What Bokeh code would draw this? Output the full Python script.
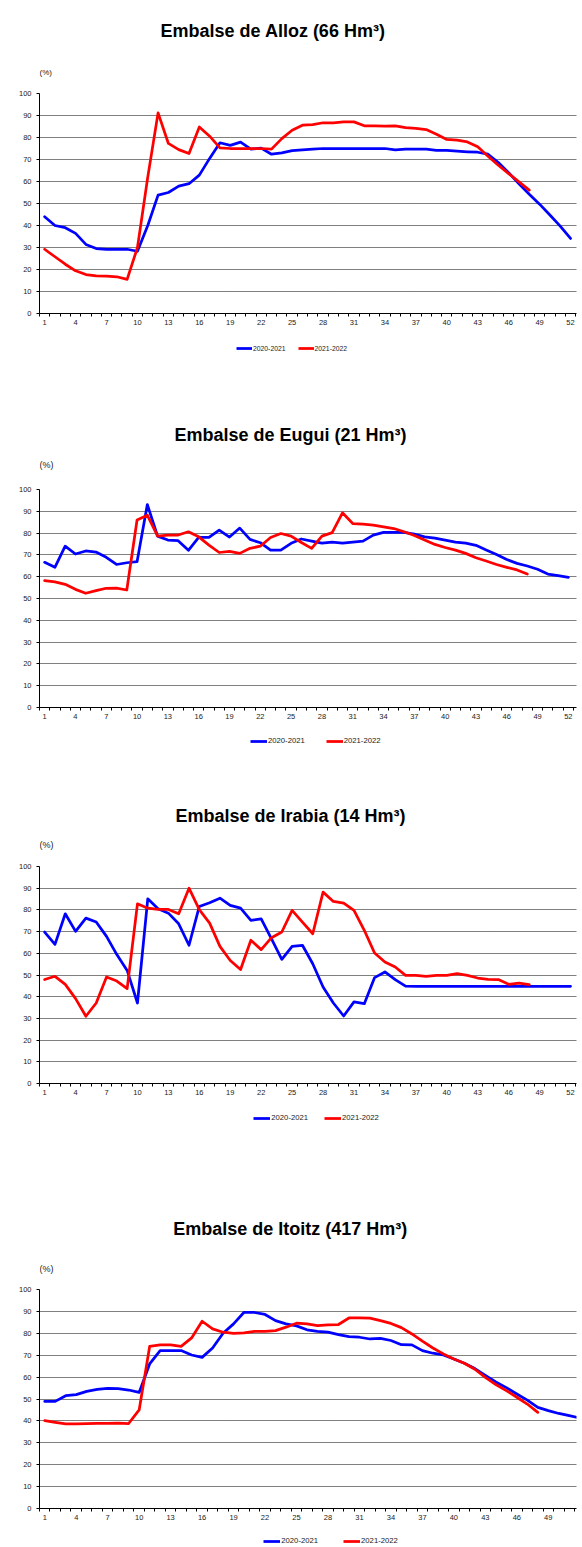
import numpy as np
from bokeh.plotting import figure
from bokeh.layouts import column
from bokeh.models import Range1d, FixedTicker, Legend, LegendItem, Label
from bokeh.embed import file_html
from bokeh.resources import INLINE

# ---------------- data ----------------
weeks = list(range(1, 53))
week_ticks = list(range(1, 53, 3))
y_ticks = list(range(0, 101, 10))
series_names = ["2020-2021", "2021-2022"]
unit_label = "(%)"

titles = [
    "Embalse de Alloz (66 Hm³)",
    "Embalse de Eugui (21 Hm³)",
    "Embalse de Irabia (14 Hm³)",
    "Embalse de Itoitz (417 Hm³)",
]

alloz_2020_2021 = [44, 40, 39, 36.4, 31.4, 29.5, 29.2, 29.2, 29.2, 28.3,
                   40, 53.8, 55, 57.9, 59, 62.9, 70.5, 77.6, 76.4, 77.9,
                   74.7, 75.2, 72.4, 73, 74, 74.4, 74.7, 75, 75, 75,
                   75, 75, 75, 75, 74.4, 74.7, 74.7, 74.7, 74.2, 74.1,
                   73.8, 73.5, 73.3, 72.4, 68.6, 64, 59, 54.2, 49.7, 44.8,
                   39.7, 34.1]
alloz_2021_2022 = [29.2, 25.8, 22.4, 19.4, 17.7, 17.1, 17, 16.7, 15.5, 30,
                   62, 91.2, 77.3, 74.5, 72.7, 84.8, 80.6, 75.3, 75, 75,
                   75, 75, 74.7, 79.5, 83.3, 85.6, 85.9, 86.7, 86.7, 87.1,
                   87.1, 85.3, 85.3, 85.2, 85.3, 84.5, 84.1, 83.6, 81.5, 79.1,
                   78.8, 78, 75.8, 71.5, 67.4, 63.6, 59.8, 56.1]

eugui_2020_2021 = [66.6, 64.3, 74, 70.4, 71.8, 71.3, 68.9, 65.6, 66.4, 66.9,
                   93.1, 78.6, 76.8, 76.5, 72.1, 78, 78, 81.4, 78.2, 82.3,
                   77.1, 75.6, 72.2, 72.2, 75.3, 77.3, 76.3, 75.4, 75.9, 75.4,
                   75.9, 76.3, 79.1, 80.3, 80.3, 80.3, 79.5, 78.3, 77.7, 76.8,
                   75.9, 75.4, 74.4, 72.2, 70.2, 67.9, 66.1, 64.9, 63.4, 61.2,
                   60.5, 59.7]
eugui_2021_2022 = [58.2, 57.6, 56.5, 54.2, 52.4, 53.6, 54.7, 54.8, 53.9, 86,
                   88.2, 78.6, 79.1, 79.1, 80.6, 78.3, 74.5, 71.1, 71.6, 70.7,
                   73, 74, 78, 79.8, 78.6, 75.7, 73, 78.6, 80.2, 89.3,
                   84.4, 84.1, 83.7, 82.9, 82.1, 80.6, 78.9, 76.8, 74.8, 73.4,
                   72.2, 70.7, 68.7, 67.2, 65.6, 64.3, 63.1, 61.2]

irabia_2020_2021 = [69.8, 64.1, 78.2, 70.1, 76.2, 74.4, 67.8, 59.4, 52.1, 37.1,
                    85.1, 80.5, 78.5, 73.6, 63.7, 81.6, 83.3, 85.4, 82.1, 80.8,
                    75.2, 75.9, 66.7, 57.2, 63.2, 63.7, 55.2, 44.5, 37.1, 31.1,
                    37.6, 36.8, 48.8, 51.4, 47.9, 44.9, 44.8, 44.8, 44.8, 44.8,
                    44.8, 44.8, 44.8, 44.8, 44.8, 44.8, 44.8, 44.8, 44.8, 44.8,
                    44.8, 44.8]
irabia_2021_2022 = [47.9, 49.4, 45.7, 39.1, 31, 37.1, 49.1, 47.2, 43.7, 82.8,
                    80.8, 80.2, 80.2, 78.2, 90, 80.1, 73.9, 63.2, 56.7, 52.5,
                    66, 61.7, 67.2, 69.8, 79.8, 74.4, 69, 88.2, 83.9, 83.1,
                    79.8, 70.6, 60.1, 56, 53.7, 49.8, 49.8, 49.4, 49.8, 49.8,
                    50.6, 49.8, 48.6, 48, 47.9, 45.7, 46.3, 45.6]

itoitz_2020_2021 = [48.9, 48.9, 51.5, 52, 53.5, 54.4, 54.9, 54.7, 54.1, 53,
                    66, 72.1, 72.1, 72.1, 70.1, 69, 73.3, 80, 84.3, 89.6,
                    89.5, 88.6, 85.8, 84.3, 83.4, 81.6, 80.9, 80.5, 79.4, 78.5,
                    78.2, 77.4, 77.7, 76.7, 74.8, 74.7, 72.1, 70.9, 70.1, 68.3,
                    66.3, 63.9, 60.8, 57.8, 55.2, 52.3, 49.5, 46.2, 44.7, 43.4,
                    42.4, 41.3]
itoitz_2021_2022 = [40.1, 39.3, 38.6, 38.6, 38.7, 38.9, 38.9, 39, 38.8, 45,
                    74, 74.7, 74.7, 74, 77.9, 85.5, 82, 80.5, 80, 80.2,
                    80.9, 80.9, 81.2, 82.8, 84.6, 84.3, 83.5, 83.8, 84, 87,
                    87, 86.9, 85.8, 84.5, 82.6, 79.7, 76.4, 73.3, 70.6, 68.3,
                    66.3, 63.6, 59.9, 56.6, 53.8, 50.8, 47.7, 43.9]

series = [
    (alloz_2020_2021, alloz_2021_2022),
    (eugui_2020_2021, eugui_2021_2022),
    (irabia_2020_2021, irabia_2021_2022),
    (itoitz_2020_2021, itoitz_2021_2022),
]

# ---------------- layout / style (pixels) ----------------
W = 582
LEFT = 39        # frame left edge (page px)
RIGHT_B = 6      # border right of the frame
FR = W - RIGHT_B

layouts = [
    dict(hh=87, tx=160, ty=56.3, px=LEFT, py=15.3, psize="8px",
         frame=220, x_end=52.58,
         fh=47, lx=197, ly=27.7, gw=16, sp=12, lsize="6.8px"),
    dict(hh=103, tx=174, ty=49, px=LEFT, py=19, psize="9px",
         frame=218, x_end=52.79,
         fh=63, lx=211, ly=45, gw=17, sp=21, lsize="7.7px"),
    dict(hh=70, tx=175, ty=44.3, px=LEFT, py=15.7, psize="9px",
         frame=217, x_end=52.58,
         fh=92, lx=214.3, ly=72.7, gw=17, sp=16, lsize="7.7px"),
    dict(hh=88, tx=172.7, ty=54.7, px=LEFT, py=14.7, psize="9px",
         frame=219, x_end=51.69,
         fh=19, lx=224.3, ly=2, gw=17, sp=25, lsize="7.7px"),
]
MAIN_TOP = 6
MAIN_BOTTOM = 20

BLUE = "#0000FF"
RED = "#FF0000"
FONT = "Liberation Sans"
TXT = "#222222"


def blank_fig(h):
    f = figure(width=W, height=h, output_backend="svg", toolbar_location=None,
               title=None, x_axis_type=None, y_axis_type=None,
               x_range=Range1d(LEFT, FR), y_range=Range1d(0, h),
               min_border_left=LEFT, min_border_right=RIGHT_B,
               min_border_top=0, min_border_bottom=0)
    f.outline_line_color = None
    f.xgrid.visible = False
    f.ygrid.visible = False
    f.background_fill_color = "white"
    f.border_fill_color = "white"
    return f


def make_header(title, L):
    f = blank_fig(L["hh"])
    f.add_layout(Label(x=L["tx"], y=L["ty"], text=title, text_font=FONT,
                       text_font_size="18px", text_font_style="bold",
                       text_color="black", text_align="left",
                       text_baseline="alphabetic"))
    f.add_layout(Label(x=L["px"], y=L["py"], text=unit_label, text_font=FONT,
                       text_font_size=L["psize"], text_color=TXT,
                       text_align="left", text_baseline="middle"))
    return f


def make_main(blue, red, L):
    p = figure(width=W, height=L["frame"] + MAIN_TOP + MAIN_BOTTOM,
               output_backend="svg", toolbar_location=None, title=None,
               x_range=Range1d(0.5, L["x_end"]), y_range=Range1d(0, 100),
               min_border_left=LEFT, min_border_right=RIGHT_B,
               min_border_top=MAIN_TOP, min_border_bottom=MAIN_BOTTOM)
    p.outline_line_color = None
    p.background_fill_color = "white"
    p.border_fill_color = "white"

    p.xgrid.visible = False
    p.ygrid.ticker = FixedTicker(ticks=y_ticks)
    p.ygrid.grid_line_color = "#000000"
    p.ygrid.grid_line_dash = "1 1"
    p.ygrid.grid_line_width = 1

    xa = p.xaxis[0]
    xa.ticker = FixedTicker(ticks=week_ticks,
                            minor_ticks=[w - 0.5 for w in weeks] + [52.5])
    xa.axis_line_color = "black"
    xa.major_tick_line_color = None
    xa.major_tick_out = 0
    xa.major_tick_in = 0
    xa.minor_tick_line_color = "black"
    xa.minor_tick_out = 3
    xa.minor_tick_in = 0
    xa.major_label_standoff = 3
    xa.major_label_text_font = FONT
    xa.major_label_text_font_size = "7.5px"
    xa.major_label_text_color = TXT

    ya = p.yaxis[0]
    ya.ticker = FixedTicker(ticks=y_ticks)
    ya.axis_line_color = "black"
    ya.major_tick_line_color = "black"
    ya.major_tick_out = 3
    ya.major_tick_in = 0
    ya.minor_tick_line_color = None
    ya.major_label_standoff = 5
    ya.major_label_text_font = FONT
    ya.major_label_text_font_size = "7.5px"
    ya.major_label_text_color = TXT

    p.line(weeks, blue, line_color=BLUE, line_width=2.75,
           line_join="round", line_cap="round")
    p.line(weeks[:len(red)], red, line_color=RED, line_width=2.75,
           line_join="round", line_cap="round")
    return p


def make_footer(L):
    f = blank_fig(L["fh"])
    nan = np.array([np.nan])
    g1 = f.line(x=nan, y=nan, line_color=BLUE, line_width=2.75)
    g2 = f.line(x=nan, y=nan, line_color=RED, line_width=2.75)
    legend = Legend(items=[LegendItem(label=series_names[0], renderers=[g1]),
                           LegendItem(label=series_names[1], renderers=[g2])],
                    location=(L["lx"], L["ly"]), orientation="horizontal",
                    glyph_width=L["gw"], glyph_height=8, label_height=8,
                    label_standoff=1, spacing=L["sp"], padding=0, margin=0,
                    border_line_color=None, background_fill_alpha=0,
                    label_text_font=FONT, label_text_font_size=L["lsize"],
                    label_text_color=TXT)
    f.add_layout(legend)
    return f


parts = []
for t, s, L in zip(titles, series, layouts):
    parts.append(make_header(t, L))
    parts.append(make_main(s[0], s[1], L))
    parts.append(make_footer(L))

page = column(*parts, spacing=0)

open("out.html", "w").write(file_html(page, INLINE))
